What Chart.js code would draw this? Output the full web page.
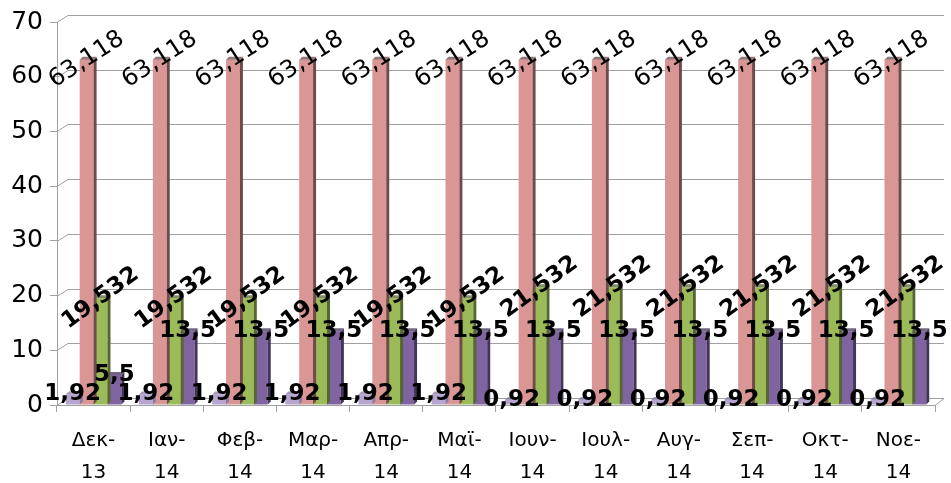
<!DOCTYPE html>
<html>
<head>
<meta charset="utf-8">
<script src="https://cdn.jsdelivr.net/npm/chart.js@4"></script>
<style>
  html, body { margin: 0; padding: 0; background: #fff; }
  #wrap { width: 951px; height: 483px; position: relative; }
</style>
</head>
<body>
<div id="wrap"><canvas id="barChart" width="951" height="483"></canvas></div>
<script>
// categories (two-line month labels)
const months = [
  ['Δεκ-', '13'], ['Ιαν-', '14'], ['Φεβ-', '14'], ['Μαρ-', '14'],
  ['Απρ-', '14'], ['Μαϊ-', '14'], ['Ιουν-', '14'], ['Ιουλ-', '14'],
  ['Αυγ-', '14'], ['Σεπ-', '14'], ['Οκτ-', '14'], ['Νοε-', '14']
];
// series values
const seriesA = [1.92, 1.92, 1.92, 1.92, 1.92, 1.92, 0.92, 0.92, 0.92, 0.92, 0.92, 0.92];
const seriesB = [63.118, 63.118, 63.118, 63.118, 63.118, 63.118, 63.118, 63.118, 63.118, 63.118, 63.118, 63.118];
const seriesC = [19.532, 19.532, 19.532, 19.532, 19.532, 19.532, 21.532, 21.532, 21.532, 21.532, 21.532, 21.532];
const seriesD = [5.5, 13.5, 13.5, 13.5, 13.5, 13.5, 13.5, 13.5, 13.5, 13.5, 13.5, 13.5];
const yTicks = [0, 10, 20, 30, 40, 50, 60, 70];

const FONT = "'DejaVu Sans', Verdana, sans-serif";
const GRID = '#a0a0a0';

// label style per dataset: rotated or not, bold or not
const labelStyle = [
  { rotate: 0, bold: true, size: 23 },
  { rotate: -33, bold: false, size: 24 },
  { rotate: -36, bold: true, size: 23 },
  { rotate: 0, bold: true, size: 23 }
];

const sideColors = ['#8a7aa3', '#6f4b4b', '#56662f', '#43345a'];

// back wall + floor drawn behind the bars (fake 3D like the original)
const wallPlugin = {
  id: 'wall',
  beforeDatasetsDraw(chart) {
    const ctx = chart.ctx;
    const y = chart.scales.y;
    const area = chart.chartArea;
    const dx = 11, dy = 7;
    const backRight = area.right + 9;
    ctx.save();
    ctx.strokeStyle = GRID;
    ctx.lineWidth = 1;
    yTicks.forEach((v) => {
      const py = Math.round(y.getPixelForValue(v)) + 0.5;
      ctx.beginPath();
      ctx.moveTo(area.left, py);
      ctx.lineTo(area.left + dx, py - dy);
      ctx.lineTo(backRight, py - dy);
      ctx.stroke();
    });
    // right edge of the floor
    const p0 = Math.round(y.getPixelForValue(0)) + 0.5;
    ctx.beginPath();
    ctx.moveTo(area.right, p0);
    ctx.lineTo(backRight, p0 - dy);
    ctx.stroke();
    ctx.restore();
  }
};

// draws a darker side and top on each bar so it looks like the 3D original
const sidePlugin = {
  id: 'sides',
  afterDatasetDraw(chart, args) {
    const ctx = chart.ctx;
    const d = 3;
    ctx.save();
    args.meta.data.forEach((bar) => {
      const { x, y, base, width } = bar.getProps(['x', 'y', 'base', 'width'], true);
      const r = x + width / 2;
      const l = x - width / 2;
      ctx.fillStyle = sideColors[args.index];
      ctx.beginPath();
      ctx.moveTo(r, y);
      ctx.lineTo(r + d, y - d);
      ctx.lineTo(r + d, base - d);
      ctx.lineTo(r, base);
      ctx.closePath();
      ctx.fill();
      ctx.globalAlpha = 0.75;
      ctx.beginPath();
      ctx.moveTo(l, y);
      ctx.lineTo(l + d, y - d);
      ctx.lineTo(r + d, y - d);
      ctx.lineTo(r, y);
      ctx.closePath();
      ctx.fill();
      ctx.globalAlpha = 1;
    });
    ctx.restore();
  }
};

// value labels centred on top of each bar
const labelPlugin = {
  id: 'valueLabels',
  afterDatasetsDraw(chart) {
    const ctx = chart.ctx;
    ctx.save();
    ctx.fillStyle = '#000';
    ctx.textAlign = 'center';
    ctx.textBaseline = 'middle';
    chart.data.datasets.forEach((ds, i) => {
      const meta = chart.getDatasetMeta(i);
      const st = labelStyle[i];
      meta.data.forEach((bar, j) => {
        const text = String(ds.data[j]).replace('.', ',');
        ctx.font = (st.bold ? 'bold ' : '') + st.size + 'px ' + FONT;
        ctx.save();
        ctx.translate(bar.x, bar.y);
        ctx.rotate(st.rotate * Math.PI / 180);
        ctx.fillText(text, 0, 0);
        ctx.restore();
      });
    });
    ctx.restore();
  }
};

const ctx = document.getElementById('barChart').getContext('2d');
new Chart(ctx, {
  type: 'bar',
  data: {
    labels: months,
    datasets: [
      { label: 'A', data: seriesA, backgroundColor: '#b6a6cf' },
      { label: 'B', data: seriesB, backgroundColor: '#d99694' },
      { label: 'C', data: seriesC, backgroundColor: '#9bbb59' },
      { label: 'D', data: seriesD, backgroundColor: '#8064a2' }
    ]
  },
  options: {
    responsive: false,
    animation: false,
    layout: { padding: { top: 20, right: 16, left: 0, bottom: 0 } },
    plugins: {
      legend: { display: false },
      tooltip: { enabled: false }
    },
    datasets: {
      bar: { categoryPercentage: 0.76, barPercentage: 1.0 }
    },
    scales: {
      x: {
        afterFit: (scale) => { scale.height = 78; },
        grid: {
          offset: true,
          drawOnChartArea: false,
          drawTicks: true,
          tickLength: 7,
          color: GRID
        },
        border: { color: GRID },
        ticks: {
          color: '#000',
          font: { family: FONT, size: 20, lineHeight: 1.6 },
          maxRotation: 0,
          autoSkip: false,
          padding: 13
        }
      },
      y: {
        min: 0,
        max: 70,
        afterFit: (scale) => { scale.width = 57; },
        afterBuildTicks: (scale) => { scale.ticks = yTicks.map((v) => ({ value: v })); },
        grid: {
          drawOnChartArea: false,
          color: GRID,
          tickLength: 7
        },
        border: { color: GRID },
        ticks: {
          color: '#000',
          font: { family: FONT, size: 25 },
          padding: 7
        }
      }
    }
  },
  plugins: [wallPlugin, sidePlugin, labelPlugin]
});
</script>
</body>
</html>
